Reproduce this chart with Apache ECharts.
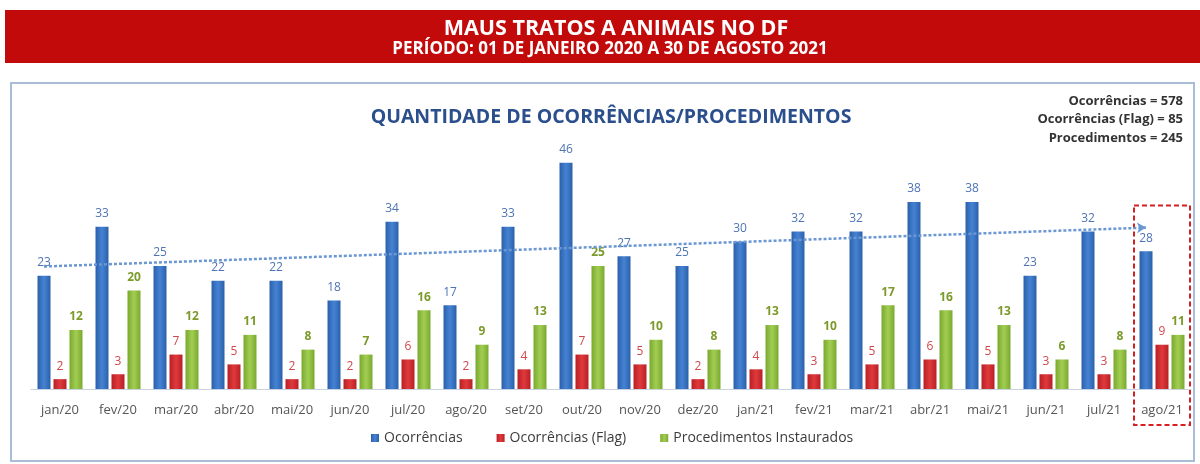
<!DOCTYPE html>
<html>
<head>
<meta charset="utf-8">
<title>Maus tratos a animais no DF</title>
<script src="https://cdn.jsdelivr.net/npm/echarts@6/dist/echarts.min.js"></script>
<style>
	html, body { margin: 0; padding: 0; background: #fff; }
	#main { width: 1200px; height: 464px; }
</style>
</head>
<body>
<div id="main"></div>
<script>
	var meses = ['jan/20', 'fev/20', 'mar/20', 'abr/20', 'mai/20', 'jun/20', 'jul/20', 'ago/20', 'set/20', 'out/20',
		'nov/20', 'dez/20', 'jan/21', 'fev/21', 'mar/21', 'abr/21', 'mai/21', 'jun/21', 'jul/21', 'ago/21'];
	var ocorrencias = [23, 33, 25, 22, 22, 18, 34, 17, 33, 46, 27, 25, 30, 32, 32, 38, 38, 23, 32, 28];
	var ocorrenciasFlag = [2, 3, 7, 5, 2, 2, 6, 2, 4, 7, 5, 2, 4, 3, 5, 6, 5, 3, 3, 9];
	var procedimentos = [12, 20, 12, 11, 8, 7, 16, 9, 13, 25, 10, 8, 13, 10, 17, 16, 13, 6, 8, 11];
	// linha de tendência (pontas)
	var tendencia = [24.9, 32.8];
	var totais = ['Ocorrências = 578', 'Ocorrências (Flag) = 85', 'Procedimentos = 245'];

	var fonte = 'Open Sans, Lato, sans-serif';

	function barra(c1, c2) {
		return new echarts.graphic.LinearGradient(0, 0, 1, 0, [
			{ offset: 0, color: c1 },
			{ offset: 0.5, color: c2 },
			{ offset: 1, color: c1 }
		]);
	}

	var chart = echarts.init(document.getElementById('main'));

	var option = {
		animation: false,
		textStyle: { fontFamily: fonte },
		title: {
			text: 'QUANTIDADE DE OCORRÊNCIAS/PROCEDIMENTOS',
			left: 606,
			textAlign: 'center',
			top: 102,
			textStyle: { color: '#2a4f8c', fontSize: 19.5, fontWeight: 'bold', fontFamily: fonte }
		},
		legend: {
			bottom: 14,
			left: 366,
			itemWidth: 8,
			itemHeight: 8,
			itemGap: 34,
			icon: 'rect',
			textStyle: { color: '#3c3c3c', fontSize: 14, fontFamily: fonte }
		},
		grid: { left: 31, right: 9, top: 143, bottom: 75 },
		xAxis: {
			type: 'category',
			data: meses,
			axisTick: { show: false },
			axisLine: { lineStyle: { color: '#c9d3e0', width: 1 } },
			axisLabel: { color: '#555', fontSize: 13, margin: 15, interval: 0 }
		},
		yAxis: {
			type: 'value',
			min: 0,
			max: 50,
			show: false,
			splitLine: { show: false }
		},
		series: [
			{
				name: 'Ocorrências',
				type: 'bar',
				data: ocorrencias,
				barWidth: 13,
				barGap: '23%',
				itemStyle: { color: barra('#2b60aa', '#4583d3') },
				label: { show: true, position: 'top', distance: 7, color: '#4d74b4', fontSize: 12 },
				markLine: {
					silent: true,
					symbol: ['none', 'arrow'],
					symbolSize: [8, 9],
					label: { show: false },
					lineStyle: { type: [3, 2], color: '#6b97d2', width: 2.5 },
					data: [[
						{ coord: [0, tendencia[0]] },
						{ coord: [19, tendencia[1]] }
					]]
				}
			},
			{
				name: 'Ocorrências (Flag)',
				type: 'bar',
				data: ocorrenciasFlag,
				barWidth: 13,
				itemStyle: { color: barra('#b91f25', '#df3a3c') },
				label: { show: true, position: 'top', distance: 7, color: '#d2474a', fontSize: 12 }
			},
			{
				name: 'Procedimentos Instaurados',
				type: 'bar',
				data: procedimentos,
				barWidth: 13,
				itemStyle: { color: barra('#79a92f', '#a2ce52') },
				label: { show: true, position: 'top', distance: 7, color: '#7b9a2a', fontSize: 12, fontWeight: 'bold' }
			}
		]
	};
	chart.setOption(option);

	// moldura, faixa do cabeçalho, totais e destaque do último mês
	var ultimo = meses.length - 1;
	var cx = chart.convertToPixel({ xAxisIndex: 0 }, ultimo);
	var meio = chart.convertToPixel({ xAxisIndex: 0 }, 1) - chart.convertToPixel({ xAxisIndex: 0 }, 0);
	var topo = chart.convertToPixel({ yAxisIndex: 0 }, 37.3);
	var base = chart.convertToPixel({ yAxisIndex: 0 }, 0);

	chart.setOption({
		graphic: [
			{
				type: 'rect', z: -1,
				shape: { x: 5, y: 10, width: 1195, height: 53 },
				style: { fill: '#c30a0a' }
			},
			{
				type: 'text', x: 616, y: 29,
				style: {
					text: 'MAUS TRATOS A ANIMAIS NO DF', fill: '#fff', align: 'center', verticalAlign: 'middle',
					font: 'bold 21.5px ' + fonte
				}
			},
			{
				type: 'text', x: 610, y: 49,
				style: {
					text: 'PERÍODO: 01 DE JANEIRO 2020 A 30 DE AGOSTO 2021', fill: '#fff', align: 'center', verticalAlign: 'middle',
					font: 'bold 17px ' + fonte
				}
			},
			{
				type: 'rect', z: -1,
				shape: { x: 11, y: 83, width: 1183, height: 378 },
				style: { fill: 'none', stroke: '#a9bdd6', lineWidth: 2 }
			},
			{
				type: 'text', x: 1183, y: 101,
				style: { text: totais[0], fill: '#333', align: 'right', verticalAlign: 'middle', font: 'bold 13px ' + fonte }
			},
			{
				type: 'text', x: 1183, y: 119,
				style: { text: totais[1], fill: '#333', align: 'right', verticalAlign: 'middle', font: 'bold 13px ' + fonte }
			},
			{
				type: 'text', x: 1183, y: 138,
				style: { text: totais[2], fill: '#333', align: 'right', verticalAlign: 'middle', font: 'bold 13px ' + fonte }
			},
			{
				type: 'rect',
				shape: { x: cx - meio / 2 + 1, y: topo, width: meio - 2, height: base + 36 - topo },
				style: { fill: 'none', stroke: '#d42020', lineWidth: 2, lineDash: [5, 3] }
			}
		]
	});

	window.addEventListener('resize', function () {
		chart.resize();
	});
</script>
</body>
</html>
